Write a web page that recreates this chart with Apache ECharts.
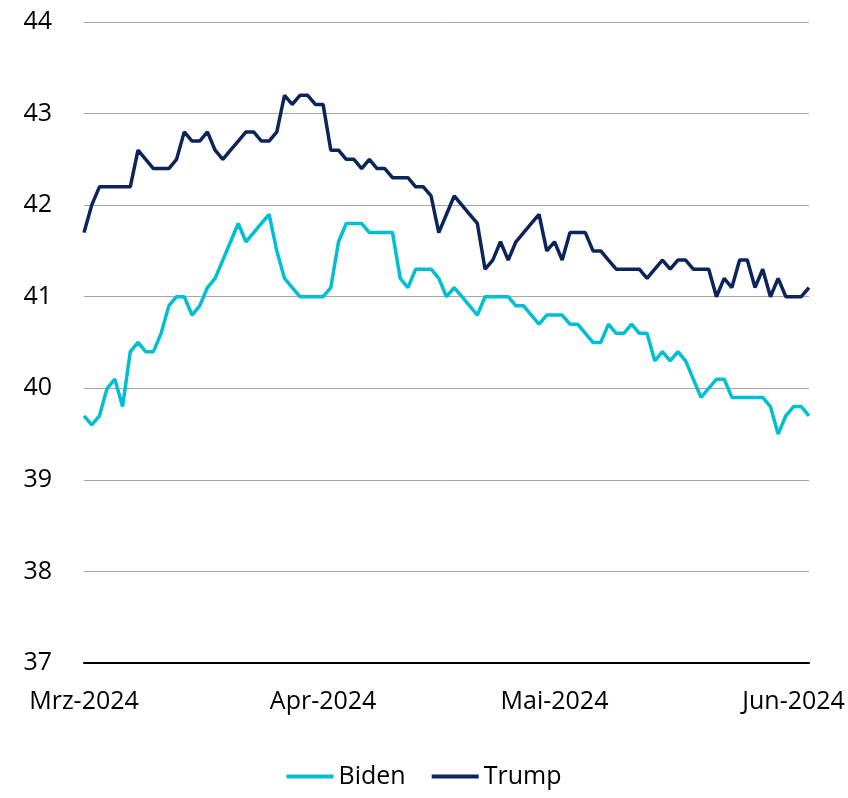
<!DOCTYPE html>
<html lang="de">
<head>
    <meta charset="UTF-8" />
    <title>Biden vs. Trump</title>
    <script src="https://cdn.jsdelivr.net/npm/echarts@6/dist/echarts.min.js"></script>
    <style>
        html, body { margin: 0; padding: 0; background: #fff; }
        #chart { width: 848px; height: 798px; }
    </style>
</head>
<body>
    <div id="chart"></div>
    <script type="text/javascript">
        // taegliche Werte, 1. Maerz bis 3. Juni 2024
        const startDate = '2024-03-01';
        const dayCount = 95;
        const monthTicks = ['2024-03-01', '2024-04-01', '2024-05-01', '2024-06-01'];
        const monthLabels = ['Mrz-2024', 'Apr-2024', 'Mai-2024', 'Jun-2024'];

        const biden = [
            39.7, 39.6, 39.7, 40.0, 40.1, 39.8, 40.4, 40.5, 40.4, 40.4,
            40.6, 40.9, 41.0, 41.0, 40.8, 40.9, 41.1, 41.2, 41.4, 41.6,
            41.8, 41.6, 41.7, 41.8, 41.9, 41.5, 41.2, 41.1, 41.0, 41.0,
            41.0, 41.0, 41.1, 41.6, 41.8, 41.8, 41.8, 41.7, 41.7, 41.7,
            41.7, 41.2, 41.1, 41.3, 41.3, 41.3, 41.2, 41.0, 41.1, 41.0,
            40.9, 40.8, 41.0, 41.0, 41.0, 41.0, 40.9, 40.9, 40.8, 40.7,
            40.8, 40.8, 40.8, 40.7, 40.7, 40.6, 40.5, 40.5, 40.7, 40.6,
            40.6, 40.7, 40.6, 40.6, 40.3, 40.4, 40.3, 40.4, 40.3, 40.1,
            39.9, 40.0, 40.1, 40.1, 39.9, 39.9, 39.9, 39.9, 39.9, 39.8,
            39.5, 39.7, 39.8, 39.8, 39.7
        ];
        const trump = [
            41.7, 42.0, 42.2, 42.2, 42.2, 42.2, 42.2, 42.6, 42.5, 42.4,
            42.4, 42.4, 42.5, 42.8, 42.7, 42.7, 42.8, 42.6, 42.5, 42.6,
            42.7, 42.8, 42.8, 42.7, 42.7, 42.8, 43.2, 43.1, 43.2, 43.2,
            43.1, 43.1, 42.6, 42.6, 42.5, 42.5, 42.4, 42.5, 42.4, 42.4,
            42.3, 42.3, 42.3, 42.2, 42.2, 42.1, 41.7, 41.9, 42.1, 42.0,
            41.9, 41.8, 41.3, 41.4, 41.6, 41.4, 41.6, 41.7, 41.8, 41.9,
            41.5, 41.6, 41.4, 41.7, 41.7, 41.7, 41.5, 41.5, 41.4, 41.3,
            41.3, 41.3, 41.3, 41.2, 41.3, 41.4, 41.3, 41.4, 41.4, 41.3,
            41.3, 41.3, 41.0, 41.2, 41.1, 41.4, 41.4, 41.1, 41.3, 41.0,
            41.2, 41.0, 41.0, 41.0, 41.1
        ];

        // Kategorien (Datum je Tag)
        const days = [];
        const d0 = new Date(startDate + 'T00:00:00Z');
        for (let i = 0; i < dayCount; i++) {
            const d = new Date(d0.getTime() + i * 86400000);
            days.push(d.toISOString().slice(0, 10));
        }

        const fontName = '"Segoe UI", "Open Sans", "Noto Sans", sans-serif';
        var myChart = echarts.init(document.getElementById('chart'), null, { renderer: 'canvas' });

        var option = {
            animation: false,
            grid: { left: 84, right: 39, top: 22, bottom: 135, containLabel: false },
            legend: {
                bottom: 4,
                left: 'center',
                icon: 'rect',
                itemWidth: 47,
                itemHeight: 4,
                itemGap: 26,
                textStyle: { fontFamily: fontName, fontSize: 25, color: '#000' },
                data: ['Biden', 'Trump']
            },
            xAxis: {
                type: 'category',
                data: days,
                boundaryGap: false,
                axisLine: { lineStyle: { color: '#000', width: 2 } },
                axisTick: { show: false },
                axisLabel: {
                    interval: function (index, value) { return monthTicks.indexOf(value) >= 0; },
                    formatter: function (value) { return monthLabels[monthTicks.indexOf(value)]; },
                    margin: 26,
                    fontFamily: fontName,
                    fontSize: 25,
                    color: '#000'
                },
                splitLine: { show: false }
            },
            yAxis: {
                type: 'value',
                min: 37,
                max: 44,
                interval: 1,
                axisLine: { show: false },
                axisTick: { show: false },
                axisLabel: {
                    margin: 32,
                    align: 'right',
                    fontFamily: fontName,
                    fontSize: 25,
                    color: '#000'
                },
                splitLine: { lineStyle: { color: '#a6a6a6', width: 1 } }
            },
            series: [
                {
                    name: 'Biden',
                    type: 'line',
                    data: biden,
                    showSymbol: false,
                    symbol: 'none',
                    lineStyle: { color: '#00bfd3', width: 3.5 },
                    itemStyle: { color: '#00bfd3' }
                },
                {
                    name: 'Trump',
                    type: 'line',
                    data: trump,
                    showSymbol: false,
                    symbol: 'none',
                    lineStyle: { color: '#0b2459', width: 3.5 },
                    itemStyle: { color: '#0b2459' }
                }
            ]
        };

        myChart.setOption(option);
        window.onresize = function () {
            myChart.resize();
        };
    </script>
</body>
</html>
